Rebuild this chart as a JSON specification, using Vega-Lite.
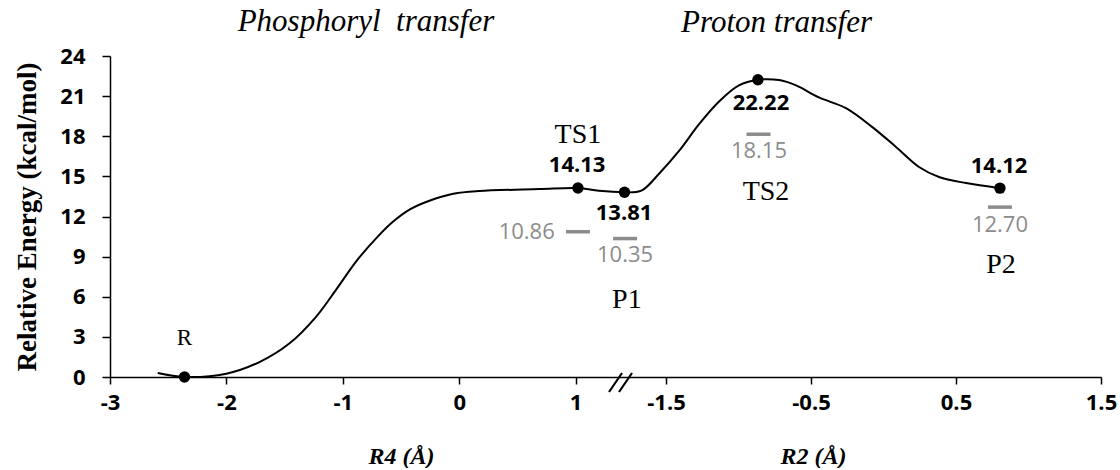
{
  "$schema": "https://vega.github.io/schema/vega-lite/v6.json",
  "background": "white",
  "padding": {"left": 13, "top": 6, "right": 0, "bottom": 0},
  "spacing": 0,
  "bounds": "flush",
  "config": {
    "view": {"stroke": null},
    "axis": {"grid": false, "domainColor": "black", "domainWidth": 1.5, "tickColor": "black", "tickWidth": 1.5, "labelFont": "Open Sans", "labelFontWeight": "bold", "labelFontSize": 22, "labelColor": "black", "titleColor": "black", "labelFlush": false, "labelOverlap": false},
    "title": {"font": "Liberation Serif", "fontStyle": "italic", "fontWeight": "normal", "fontSize": 31, "color": "black"}
  },
  "data": {"values": [
    {"panel": "L", "type": "curve", "r": -2.59, "e": 0.3},
    {"panel": "L", "type": "curve", "r": -2.36, "e": 0},
    {"panel": "L", "type": "curve", "r": -2.0, "e": 0.25},
    {"panel": "L", "type": "curve", "r": -1.72, "e": 1.1},
    {"panel": "L", "type": "curve", "r": -1.46, "e": 2.5},
    {"panel": "L", "type": "curve", "r": -1.23, "e": 4.5},
    {"panel": "L", "type": "curve", "r": -1.06, "e": 6.5},
    {"panel": "L", "type": "curve", "r": -0.88, "e": 8.7},
    {"panel": "L", "type": "curve", "r": -0.71, "e": 10.4},
    {"panel": "L", "type": "curve", "r": -0.57, "e": 11.6},
    {"panel": "L", "type": "curve", "r": -0.42, "e": 12.55},
    {"panel": "L", "type": "curve", "r": -0.25, "e": 13.2},
    {"panel": "L", "type": "curve", "r": -0.05, "e": 13.7},
    {"panel": "L", "type": "curve", "r": 0.17, "e": 13.9},
    {"panel": "L", "type": "curve", "r": 0.69, "e": 14.05},
    {"panel": "L", "type": "curve", "r": 1.02, "e": 14.13},
    {"panel": "L", "type": "curve", "r": 1.2, "e": 13.92},
    {"panel": "L", "type": "curve", "r": 1.42, "e": 13.81},
    {"panel": "L", "type": "curve", "r": 1.47, "e": 13.83},
    {"panel": "L", "type": "pt", "r": -2.36, "e": 0, "text": "R"},
    {"panel": "L", "type": "pt", "r": 1.02, "e": 14.13, "text": "TS1"},
    {"panel": "L", "type": "pt", "r": 1.42, "e": 13.81, "text": "P1"},
    {"panel": "L", "type": "dash", "r": 1.02, "e": 10.86},
    {"panel": "L", "type": "dash", "r": 1.425, "e": 10.35},
    {"panel": "L", "type": "nameS", "r": -2.36, "e": 2.92, "text": "R"},
    {"panel": "L", "type": "name", "r": 1.02, "e": 18.09, "text": "TS1"},
    {"panel": "L", "type": "name", "r": 1.44, "e": 5.76, "text": "P1"},
    {"panel": "L", "type": "value", "r": 1.013, "e": 15.85, "text": "14.13"},
    {"panel": "L", "type": "value", "r": 1.416, "e": 12.26, "text": "13.81"},
    {"panel": "L", "type": "dftlabel", "r": 0.58, "e": 10.84, "text": "10.86"},
    {"panel": "L", "type": "dftlabel", "r": 1.425, "e": 9.12, "text": "10.35"},
    {"panel": "L", "type": "break", "r": 1.39, "e": 0},
    {"panel": "R", "type": "curve", "r": -1.783, "e": 13.81},
    {"panel": "R", "type": "curve", "r": -1.666, "e": 13.96},
    {"panel": "R", "type": "curve", "r": -1.548, "e": 15.2},
    {"panel": "R", "type": "curve", "r": -1.41, "e": 16.9},
    {"panel": "R", "type": "curve", "r": -1.272, "e": 18.9},
    {"panel": "R", "type": "curve", "r": -1.134, "e": 20.6},
    {"panel": "R", "type": "curve", "r": -0.997, "e": 21.8},
    {"panel": "R", "type": "curve", "r": -0.866, "e": 22.22},
    {"panel": "R", "type": "curve", "r": -0.72, "e": 22.2},
    {"panel": "R", "type": "curve", "r": -0.603, "e": 21.8},
    {"panel": "R", "type": "curve", "r": -0.445, "e": 20.9},
    {"panel": "R", "type": "curve", "r": -0.259, "e": 20.1},
    {"panel": "R", "type": "curve", "r": -0.079, "e": 18.7},
    {"panel": "R", "type": "curve", "r": 0.086, "e": 17.2},
    {"panel": "R", "type": "curve", "r": 0.245, "e": 15.7},
    {"panel": "R", "type": "curve", "r": 0.383, "e": 14.95},
    {"panel": "R", "type": "curve", "r": 0.569, "e": 14.5},
    {"panel": "R", "type": "curve", "r": 0.803, "e": 14.12},
    {"panel": "R", "type": "pt", "r": -0.866, "e": 22.22, "text": "TS2"},
    {"panel": "R", "type": "pt", "r": 0.803, "e": 14.12, "text": "P2"},
    {"panel": "R", "type": "dash", "r": -0.862, "e": 18.15},
    {"panel": "R", "type": "dash", "r": 0.803, "e": 12.70},
    {"panel": "R", "type": "name", "r": -0.81, "e": 13.83, "text": "TS2"},
    {"panel": "R", "type": "name", "r": 0.81, "e": 8.37, "text": "P2"},
    {"panel": "R", "type": "value", "r": -0.845, "e": 20.49, "text": "22.22"},
    {"panel": "R", "type": "value", "r": 0.797, "e": 15.78, "text": "14.12"},
    {"panel": "R", "type": "dftlabel", "r": -0.859, "e": 16.9, "text": "18.15"},
    {"panel": "R", "type": "dftlabel", "r": 0.803, "e": 11.36, "text": "12.70"}
  ]},
  "hconcat": [
    {
      "width": 518,
      "height": 321,
      "title": {"text": "Phosphoryl\u00a0 transfer", "dx": -3, "offset": 7},
      "transform": [{"filter": "datum.panel === 'L'"}],
      "encoding": {
        "x": {"field": "r", "type": "quantitative", "scale": {"domain": [-3, 1.45], "nice": false, "zero": false},
          "axis": {"values": [-3, -2, -1, 0, 1], "labelExpr": "datum.value < 0 ? '-' + format(-datum.value, '.0f') : format(datum.value, '.0f')", "title": "R4 (Å)", "tickSize": 7, "labelPadding": 8, "titleFont": "Liberation Serif", "titleFontStyle": "italic", "titleFontWeight": "bold", "titleFontSize": 24, "titleX": 291, "titleY": 79, "titleBaseline": "middle"}},
        "y": {"field": "e", "type": "quantitative", "scale": {"domain": [0, 24], "nice": false, "zero": false},
          "axis": {"values": [0, 3, 6, 9, 12, 15, 18, 21, 24], "title": "Relative Energy (kcal/mol)", "tickSize": 8, "labelPadding": 17, "titleFont": "Liberation Serif", "titleFontWeight": "bold", "titleFontSize": 27, "titlePadding": 18}}
      },
      "layer": [
        {"transform": [{"filter": "datum.type === 'curve'"}], "mark": {"type": "line", "interpolate": "catmull-rom", "color": "black", "strokeWidth": 2, "clip": true}},
        {"transform": [{"filter": "datum.type === 'pt'"}], "mark": {"type": "circle", "size": 130, "color": "black", "opacity": 1}},
        {"transform": [{"filter": "datum.type === 'dash'"}], "mark": {"type": "point", "shape": "stroke", "size": 576, "strokeWidth": 3.5, "color": "#8c8c8c", "filled": false, "opacity": 1}},
        {"transform": [{"filter": "datum.type === 'name'"}], "mark": {"type": "text", "font": "Liberation Serif", "fontSize": 28, "color": "black", "baseline": "middle", "align": "center"}, "encoding": {"text": {"field": "text"}}},
        {"transform": [{"filter": "datum.type === 'nameS'"}], "mark": {"type": "text", "font": "Liberation Serif", "fontSize": 23, "color": "black", "baseline": "middle", "align": "center"}, "encoding": {"text": {"field": "text"}}},
        {"transform": [{"filter": "datum.type === 'value'"}], "mark": {"type": "text", "font": "Open Sans", "fontWeight": "bold", "fontSize": 22, "color": "black", "baseline": "middle", "align": "center"}, "encoding": {"text": {"field": "text"}}},
        {"transform": [{"filter": "datum.type === 'dftlabel'"}], "mark": {"type": "text", "font": "Open Sans", "fontSize": 22, "color": "#8c8c8c", "baseline": "middle", "align": "center"}, "encoding": {"text": {"field": "text"}}},
        {"transform": [{"filter": "datum.type === 'break'"}], "mark": {"type": "point", "shape": "M-1.2,1.5L0.1,-0.4M-0.2,1.5L1.1,-0.4", "size": 400, "strokeWidth": 2.2, "color": "black", "filled": false, "opacity": 1}}
      ]
    },
    {
      "width": 473,
      "height": 321,
      "title": {"text": "Proton transfer", "dx": -88, "offset": 17},
      "transform": [{"filter": "datum.panel === 'R'"}],
      "encoding": {
        "x": {"field": "r", "type": "quantitative", "scale": {"domain": [-1.762, 1.5], "nice": false, "zero": false},
          "axis": {"values": [-1.5, -0.5, 0.5, 1.5], "labelExpr": "datum.value < 0 ? '-' + format(-datum.value, '.1f') : format(datum.value, '.1f')", "title": "R2 (Å)", "tickSize": 7, "labelPadding": 8, "titleFont": "Liberation Serif", "titleFontStyle": "italic", "titleFontWeight": "bold", "titleFontSize": 24, "titleX": 185, "titleY": 79, "titleBaseline": "middle"}},
        "y": {"field": "e", "type": "quantitative", "scale": {"domain": [0, 24], "nice": false, "zero": false}, "axis": null}
      },
      "layer": [
        {"transform": [{"filter": "datum.type === 'curve'"}], "mark": {"type": "line", "interpolate": "catmull-rom", "color": "black", "strokeWidth": 2, "clip": true}},
        {"transform": [{"filter": "datum.type === 'pt'"}], "mark": {"type": "circle", "size": 130, "color": "black", "opacity": 1}},
        {"transform": [{"filter": "datum.type === 'dash'"}], "mark": {"type": "point", "shape": "stroke", "size": 576, "strokeWidth": 3.5, "color": "#8c8c8c", "filled": false, "opacity": 1}},
        {"transform": [{"filter": "datum.type === 'name'"}], "mark": {"type": "text", "font": "Liberation Serif", "fontSize": 28, "color": "black", "baseline": "middle", "align": "center"}, "encoding": {"text": {"field": "text"}}},
        {"transform": [{"filter": "datum.type === 'value'"}], "mark": {"type": "text", "font": "Open Sans", "fontWeight": "bold", "fontSize": 22, "color": "black", "baseline": "middle", "align": "center"}, "encoding": {"text": {"field": "text"}}},
        {"transform": [{"filter": "datum.type === 'dftlabel'"}], "mark": {"type": "text", "font": "Open Sans", "fontSize": 22, "color": "#8c8c8c", "baseline": "middle", "align": "center"}, "encoding": {"text": {"field": "text"}}}
      ]
    }
  ]
}
